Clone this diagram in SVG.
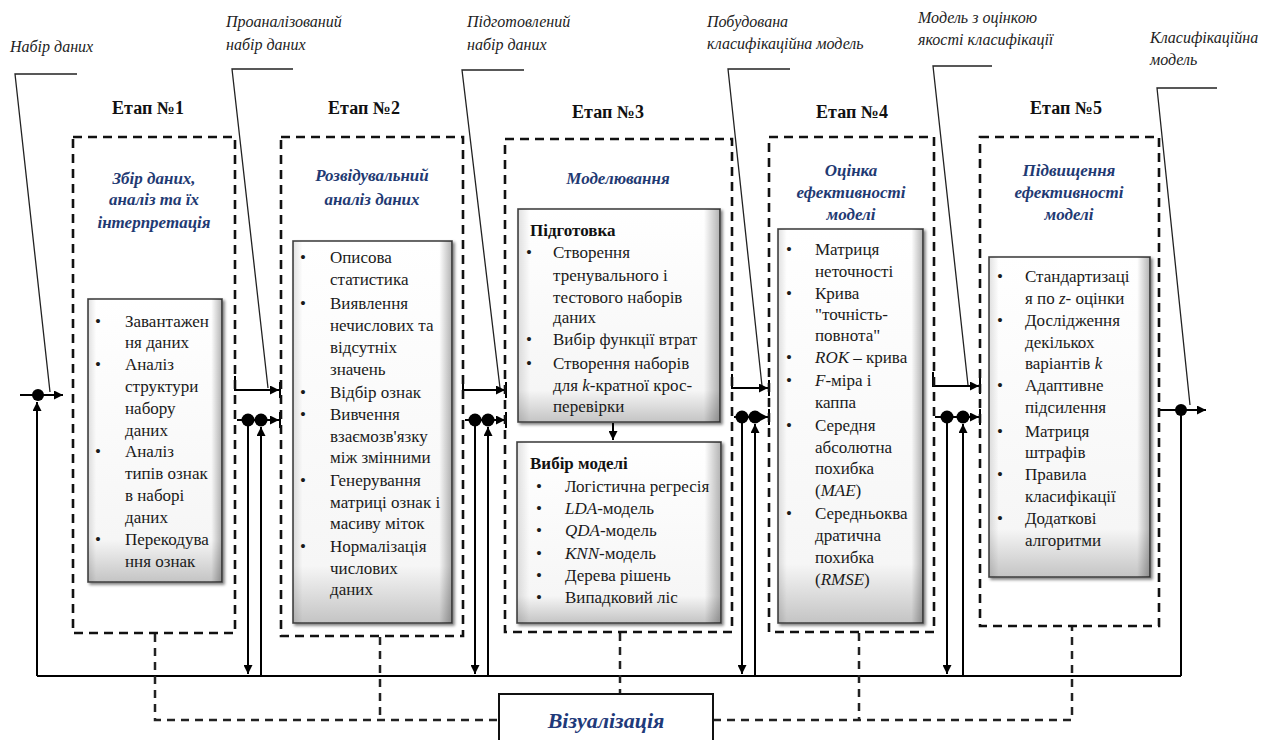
<svg xmlns="http://www.w3.org/2000/svg" width="1276" height="740" viewBox="0 0 1276 740">
<defs>
<marker id="a" viewBox="0 0 10 10" refX="10" refY="5" markerWidth="10" markerHeight="9" markerUnits="userSpaceOnUse" orient="auto"><path d="M0,0 L10,5 L0,10 z" fill="#000"/></marker>
<linearGradient id="gv" x1="0" y1="0" x2="0" y2="1"><stop offset="0" stop-color="#fff"/><stop offset="0.85" stop-color="#f6f6f6"/><stop offset="1" stop-color="#c4c4c4"/></linearGradient>
<linearGradient id="gh" x1="0" y1="0" x2="1" y2="0"><stop offset="0" stop-color="#000" stop-opacity="0.12"/><stop offset="0.06" stop-color="#000" stop-opacity="0"/><stop offset="0.92" stop-color="#000" stop-opacity="0"/><stop offset="1" stop-color="#000" stop-opacity="0.3"/></linearGradient>
<filter id="sh" x="-10%" y="-10%" width="130%" height="130%"><feGaussianBlur in="SourceAlpha" stdDeviation="1.5"/><feOffset dx="2" dy="2"/><feComponentTransfer><feFuncA type="linear" slope="0.5"/></feComponentTransfer><feMerge><feMergeNode/><feMergeNode in="SourceGraphic"/></feMerge></filter>
</defs>
<style>
.stage{fill:none;stroke:#111;stroke-width:2.6;stroke-dasharray:9 6}
.inner{fill:url(#gv);stroke:#444;stroke-width:1.6;filter:url(#sh)}
.ov{fill:url(#gh);stroke:none}
text{font-family:"Liberation Serif","Times New Roman",serif}
.t{font-size:17px;fill:#1a1a1a}
.h{font-weight:bold;font-size:18px;fill:#111;text-anchor:middle}
.hb{font-weight:bold;font-size:17px;fill:#111}
.sub{font-weight:bold;font-style:italic;font-size:17px;fill:#1f3a73;text-anchor:middle}
.lbl{font-style:italic;font-size:16px;fill:#222}
.call{fill:none;stroke:#222;stroke-width:1.3}
.flow{fill:none;stroke:#000;stroke-width:2}
.tick{stroke:#000;stroke-width:2}
.viz{fill:none;stroke:#222;stroke-width:2.5;stroke-dasharray:8 6}
.it{font-style:italic}
</style>

<g id="labels">
<text class="lbl" x="10" y="52">Набір даних</text>
<text class="lbl" x="226" y="27">Проаналізований</text>
<text class="lbl" x="226" y="50">набір даних</text>
<text class="lbl" x="467" y="27">Підготовлений</text>
<text class="lbl" x="467" y="50">набір даних</text>
<text class="lbl" x="707" y="27">Побудована</text>
<text class="lbl" x="707" y="49">класифікаційна модель</text>
<text class="lbl" x="918" y="23">Модель з оцінкою</text>
<text class="lbl" x="918" y="45">якості класифікації</text>
<text class="lbl" x="1150" y="43">Класифікаційна</text>
<text class="lbl" x="1150" y="65">модель</text>
</g>

<g id="connectors">
<polyline class="call" points="77,74 15,74 50,392"/>
<polyline class="call" points="293,69 232,69 268,388"/>
<polyline class="call" points="524,70 462,70 500,388"/>
<polyline class="call" points="790,69 728,69 762,386"/>
<polyline class="call" points="992,66 933,66 968,385"/>
<polyline class="call" points="1217,88 1157,88 1190,405"/>
<path class="flow" d="M37,676 H1181" stroke-width="2.5"/>
<path class="flow" d="M20,395 H63" marker-end="url(#a)"/>
<path class="flow" d="M37,676 V402" marker-end="url(#a)"/>
<path class="flow" d="M235,376 V390 H279" marker-end="url(#a)"/>
<path class="flow" d="M237,420 H279" marker-end="url(#a)"/>
<path class="flow" d="M248,420 V674" marker-end="url(#a)"/>
<path class="flow" d="M261,676 V427" marker-end="url(#a)"/>
<path class="flow" d="M463,376 V390 H505" marker-end="url(#a)"/>
<path class="flow" d="M465,420 H505" marker-end="url(#a)"/>
<path class="flow" d="M475,420 V674" marker-end="url(#a)"/>
<path class="flow" d="M488,676 V427" marker-end="url(#a)"/>
<path class="flow" d="M732,374 V388 H768" marker-end="url(#a)"/>
<path class="flow" d="M734,417 H768" marker-end="url(#a)"/>
<path class="flow" d="M742,417 V674" marker-end="url(#a)"/>
<path class="flow" d="M755,676 V424" marker-end="url(#a)"/>
<path class="flow" d="M933,372 V386 H979" marker-end="url(#a)"/>
<path class="flow" d="M935,417 H979" marker-end="url(#a)"/>
<path class="flow" d="M947,417 V674" marker-end="url(#a)"/>
<path class="flow" d="M963,676 V424" marker-end="url(#a)"/>
<path class="flow" d="M1160,410 H1206" marker-end="url(#a)"/>
<path class="flow" d="M1181,676 V410"/>
<path class="tick" d="M280,382 V398 M280,412 V428 M506,382 V398 M506,412 V428 M769,380 V396 M769,409 V425 M980,378 V394 M980,409 V425"/>
<g fill="#000">
<circle cx="38" cy="395" r="6"/>
<circle cx="248" cy="420" r="6.5"/><circle cx="261" cy="420" r="6.5"/>
<circle cx="475" cy="420" r="6.5"/><circle cx="488" cy="420" r="6.5"/>
<circle cx="742" cy="417" r="6.5"/><circle cx="755" cy="417" r="6.5"/>
<circle cx="947" cy="417" r="6.5"/><circle cx="963" cy="417" r="6.5"/>
<circle cx="1181" cy="410" r="6"/>
</g>
<path class="viz" d="M155,634 V720 H499 M380,637 V720 M620,633 V694 M713,720 H1072 V627 M859,633 V720"/>
<path class="flow" d="M613,423 V440" stroke-width="1.6" marker-end="url(#a)"/>
</g>

<g id="stage1">
<text class="h" x="148" y="114">Етап №1</text>
<rect class="stage" x="73" y="137" width="162" height="496"/>
<text class="sub" x="154" y="184">Збір даних,</text>
<text class="sub" x="154" y="205">аналіз та їх</text>
<text class="sub" x="154" y="228">інтерпретація</text>
<rect class="inner" x="88" y="299" width="134" height="283"/>
<rect class="ov" x="88" y="299" width="134" height="283"/>
<g class="t">
<text x="95" y="327">•</text><text x="125" y="327">Завантажен</text>
<text x="125" y="348">ня даних</text>
<text x="95" y="370">•</text><text x="125" y="370">Аналіз</text>
<text x="125" y="392">структури</text>
<text x="125" y="414">набору</text>
<text x="125" y="436">даних</text>
<text x="95" y="457">•</text><text x="125" y="457">Аналіз</text>
<text x="125" y="479">типів ознак</text>
<text x="125" y="501">в наборі</text>
<text x="125" y="523">даних</text>
<text x="95" y="545">•</text><text x="125" y="545">Перекодува</text>
<text x="125" y="567">ння ознак</text>
</g>
</g>

<g id="stage2">
<text class="h" x="364" y="114">Етап №2</text>
<rect class="stage" x="281" y="137" width="182" height="499"/>
<text class="sub" x="372" y="181">Розвідувальний</text>
<text class="sub" x="372" y="205">аналіз даних</text>
<rect class="inner" x="293" y="241" width="159" height="382"/>
<rect class="ov" x="293" y="241" width="159" height="382"/>
<g class="t">
<text x="300" y="263">•</text><text x="330" y="263">Описова</text>
<text x="330" y="285">статистика</text>
<text x="300" y="309">•</text><text x="330" y="309">Виявлення</text>
<text x="330" y="331">нечислових та</text>
<text x="330" y="353">відсутніх</text>
<text x="330" y="375">значень</text>
<text x="300" y="398">•</text><text x="330" y="398">Відбір ознак</text>
<text x="300" y="420">•</text><text x="330" y="420">Вивчення</text>
<text x="330" y="442">взаємозв'язку</text>
<text x="330" y="463">між змінними</text>
<text x="300" y="486">•</text><text x="330" y="486">Генерування</text>
<text x="330" y="508">матриці ознак і</text>
<text x="330" y="529">масиву міток</text>
<text x="300" y="552">•</text><text x="330" y="552">Нормалізація</text>
<text x="330" y="574">числових</text>
<text x="330" y="595">даних</text>
</g>
</g>

<g id="stage3">
<text class="h" x="608" y="118">Етап №3</text>
<rect class="stage" x="505" y="139" width="227" height="493"/>
<text class="sub" x="618" y="184">Моделювання</text>
<rect class="inner" x="518" y="209" width="202" height="213"/>
<rect class="ov" x="518" y="209" width="202" height="213"/>
<g class="t">
<text class="hb" x="530" y="236">Підготовка</text>
<text x="526" y="258">•</text><text x="553" y="258">Створення</text>
<text x="553" y="281">тренувального і</text>
<text x="553" y="303">тестового наборів</text>
<text x="553" y="323">даних</text>
<text x="526" y="345">•</text><text x="553" y="345">Вибір функції втрат</text>
<text x="526" y="369">•</text><text x="553" y="369">Створення наборів</text>
<text x="553" y="391">для <tspan class="it">k</tspan>-кратної крос-</text>
<text x="553" y="412">перевірки</text>
</g>
<rect class="inner" x="517" y="442" width="204" height="181"/>
<rect class="ov" x="517" y="442" width="204" height="181"/>
<g class="t">
<text class="hb" x="530" y="469">Вибір моделі</text>
<text x="536" y="492">•</text><text x="565" y="492">Логістична регресія</text>
<text x="536" y="514">•</text><text x="565" y="514"><tspan class="it">LDA</tspan>-модель</text>
<text x="536" y="536">•</text><text x="565" y="536"><tspan class="it">QDA</tspan>-модель</text>
<text x="536" y="559">•</text><text x="565" y="559"><tspan class="it">KNN</tspan>-модель</text>
<text x="536" y="581">•</text><text x="565" y="581">Дерева рішень</text>
<text x="536" y="603">•</text><text x="565" y="603">Випадковий ліс</text>
</g>
</g>

<g id="stage4">
<text class="h" x="852" y="118">Етап №4</text>
<rect class="stage" x="769" y="137" width="165" height="495"/>
<text class="sub" x="851" y="176">Оцінка</text>
<text class="sub" x="851" y="198">ефективності</text>
<text class="sub" x="851" y="220">моделі</text>
<rect class="inner" x="778" y="229" width="145" height="394"/>
<rect class="ov" x="778" y="229" width="145" height="394"/>
<g class="t">
<text x="786" y="255">•</text><text x="815" y="255">Матриця</text>
<text x="815" y="277">неточності</text>
<text x="786" y="299">•</text><text x="815" y="299">Крива</text>
<text x="815" y="320">"точність-</text>
<text x="815" y="341">повнота"</text>
<text x="786" y="363">•</text><text x="815" y="363"><tspan class="it">ROK</tspan> – крива</text>
<text x="786" y="386">•</text><text x="815" y="386"><tspan class="it">F</tspan>-міра і</text>
<text x="815" y="408">каппа</text>
<text x="786" y="431">•</text><text x="815" y="431">Середня</text>
<text x="815" y="453">абсолютна</text>
<text x="815" y="474">похибка</text>
<text x="815" y="496">(<tspan class="it">MAE</tspan>)</text>
<text x="786" y="519">•</text><text x="815" y="519">Середньоква</text>
<text x="815" y="541">дратична</text>
<text x="815" y="563">похибка</text>
<text x="815" y="585">(<tspan class="it">RMSE</tspan>)</text>
</g>
</g>

<g id="stage5">
<text class="h" x="1066" y="114">Етап №5</text>
<rect class="stage" x="980" y="137" width="179" height="489"/>
<text class="sub" x="1069" y="176">Підвищення</text>
<text class="sub" x="1069" y="198">ефективності</text>
<text class="sub" x="1069" y="220">моделі</text>
<rect class="inner" x="989" y="257" width="161" height="320"/>
<rect class="ov" x="989" y="257" width="161" height="320"/>
<g class="t">
<text x="997" y="282">•</text><text x="1025" y="282">Стандартизаці</text>
<text x="1025" y="304">я по <tspan class="it">z</tspan>- оцінки</text>
<text x="997" y="326">•</text><text x="1025" y="326">Дослідження</text>
<text x="1025" y="348">декількох</text>
<text x="1025" y="369">варіантів <tspan class="it">k</tspan></text>
<text x="997" y="391">•</text><text x="1025" y="391">Адаптивне</text>
<text x="1025" y="413">підсилення</text>
<text x="997" y="437">•</text><text x="1025" y="437">Матриця</text>
<text x="1025" y="458">штрафів</text>
<text x="997" y="480">•</text><text x="1025" y="480">Правила</text>
<text x="1025" y="502">класифікації</text>
<text x="997" y="524">•</text><text x="1025" y="524">Додаткові</text>
<text x="1025" y="546">алгоритми</text>
</g>
</g>

<g id="visualization">
<rect x="499" y="694" width="214" height="50" fill="#fff" stroke="#111" stroke-width="2"/>
<text x="606" y="728" text-anchor="middle" font-weight="bold" font-style="italic" font-size="22" fill="#1f3a7a">Візуалізація</text>
</g>
</svg>
